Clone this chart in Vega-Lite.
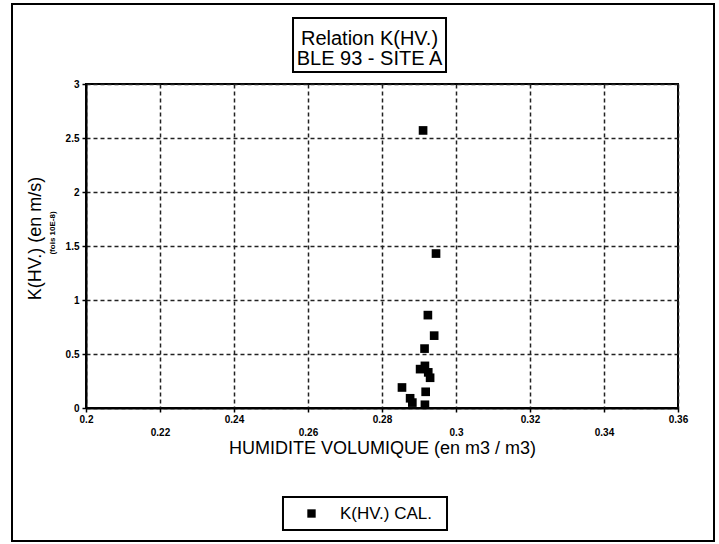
{
  "$schema": "https://vega.github.io/schema/vega-lite/v6.json",
  "width": 592,
  "height": 324,
  "autosize": "none",
  "padding": {"left": 86, "top": 84, "right": 41, "bottom": 136},
  "background": "white",
  "config": {
    "font": "Liberation Sans",
    "view": {"stroke": "black", "strokeWidth": 2},
    "axis": {
      "domainColor": "black",
      "domainWidth": 2,
      "tickColor": "black",
      "tickWidth": 1.5,
      "tickSize": 4,
      "labelFont": "Liberation Sans",
      "labelFontSize": 10,
      "labelFontWeight": "bold",
      "labelColor": "black",
      "titleFont": "Liberation Sans",
      "titleFontSize": 18,
      "titleFontWeight": "normal",
      "titleColor": "black",
      "grid": true,
      "gridColor": "#222222",
      "gridWidth": 1.5,
      "gridDash": [4, 3],
      "gridOpacity": 1
    }
  },
  "data": {
    "values": [
      {"humidite": 0.2911, "k": 2.57},
      {"humidite": 0.2946, "k": 1.43},
      {"humidite": 0.2924, "k": 0.86},
      {"humidite": 0.2941, "k": 0.67},
      {"humidite": 0.2915, "k": 0.55},
      {"humidite": 0.2903, "k": 0.36},
      {"humidite": 0.2916, "k": 0.39},
      {"humidite": 0.2925, "k": 0.33},
      {"humidite": 0.2930, "k": 0.28},
      {"humidite": 0.2854, "k": 0.19},
      {"humidite": 0.2876, "k": 0.09},
      {"humidite": 0.2882, "k": 0.05},
      {"humidite": 0.2918, "k": 0.15},
      {"humidite": 0.2916, "k": 0.03}
    ]
  },
  "layer": [
    {
      "mark": {"type": "square", "size": 75, "opacity": 1},
      "encoding": {
        "x": {
          "field": "humidite",
          "type": "quantitative",
          "scale": {"domain": [0.2, 0.36], "nice": false, "zero": false},
          "axis": {
            "title": "HUMIDITE VOLUMIQUE (en m3 / m3)",
            "values": [0.2, 0.22, 0.24, 0.26, 0.28, 0.3, 0.32, 0.34, 0.36],
            "labelExpr": "round(datum.value*100) % 4 == 2 ? ['', format(datum.value, '.2~f')] : format(datum.value, '.2~f')",
            "labelLineHeight": 13,
            "labelPadding": 2,
            "titlePadding": 2,
            "labelFlush": false,
            "labelOverlap": false
          }
        },
        "y": {
          "field": "k",
          "type": "quantitative",
          "scale": {"domain": [0, 3], "nice": false},
          "axis": {
            "title": "K(HV.) (en m/s)",
            "values": [0, 0.5, 1, 1.5, 2, 2.5, 3],
            "format": "~g",
            "labelPadding": 3,
            "titlePadding": 21,
            "titleY": 154,
            "labelFlush": false,
            "labelOverlap": false
          }
        },
        "color": {
          "datum": "K(HV.) CAL.",
          "type": "nominal",
          "scale": {"range": ["black"]},
          "legend": {
            "title": null,
            "orient": "none",
            "legendX": 197,
            "legendY": 413,
            "padding": 8,
            "labelFont": "Liberation Sans",
            "labelFontSize": 17,
            "labelColor": "black",
            "symbolType": "square",
            "symbolSize": 70,
            "symbolOffset": 12,
            "labelOffset": 20
          }
        }
      }
    },
    {
      "data": {"values": [{}]},
      "mark": {"type": "rect", "fill": null, "stroke": "black", "strokeWidth": 2},
      "encoding": {
        "x": {"datum": 0.18, "type": "quantitative"},
        "x2": {"datum": 0.36973},
        "y": {"datum": 3.7407, "type": "quantitative"},
        "y2": {"datum": -1.2315}
      }
    },
    {
      "data": {"values": [{}]},
      "mark": {"type": "rect", "fill": null, "stroke": "black", "strokeWidth": 2},
      "encoding": {
        "x": {"datum": 0.25595, "type": "quantitative"},
        "x2": {"datum": 0.2973},
        "y": {"datum": 3.611, "type": "quantitative"},
        "y2": {"datum": 3.111}
      }
    },
    {
      "data": {"values": [{}]},
      "mark": {"type": "rect", "fill": null, "stroke": "black", "strokeWidth": 2},
      "encoding": {
        "x": {"datum": 0.25324, "type": "quantitative"},
        "x2": {"datum": 0.29757},
        "y": {"datum": -0.8241, "type": "quantitative"},
        "y2": {"datum": -1.1296}
      }
    },
    {
      "data": {"values": [{}]},
      "mark": {"type": "text", "text": ["Relation K(HV.)", "BLE 93 - SITE A"], "lineHeight": 20, "fontSize": 20, "font": "Liberation Sans", "align": "center", "baseline": "alphabetic", "color": "black"},
      "encoding": {
        "x": {"datum": 0.27662, "type": "quantitative"},
        "y": {"datum": 3.3611, "type": "quantitative"}
      }
    },
    {
      "data": {"values": [{}]},
      "mark": {"type": "text", "text": "(fois 10E-8)", "angle": 270, "fontSize": 8, "fontWeight": "bold", "font": "Liberation Sans", "align": "center", "baseline": "middle", "color": "black"},
      "encoding": {
        "x": {"datum": 0.19108, "type": "quantitative"},
        "y": {"datum": 1.6204, "type": "quantitative"}
      }
    }
  ]
}
